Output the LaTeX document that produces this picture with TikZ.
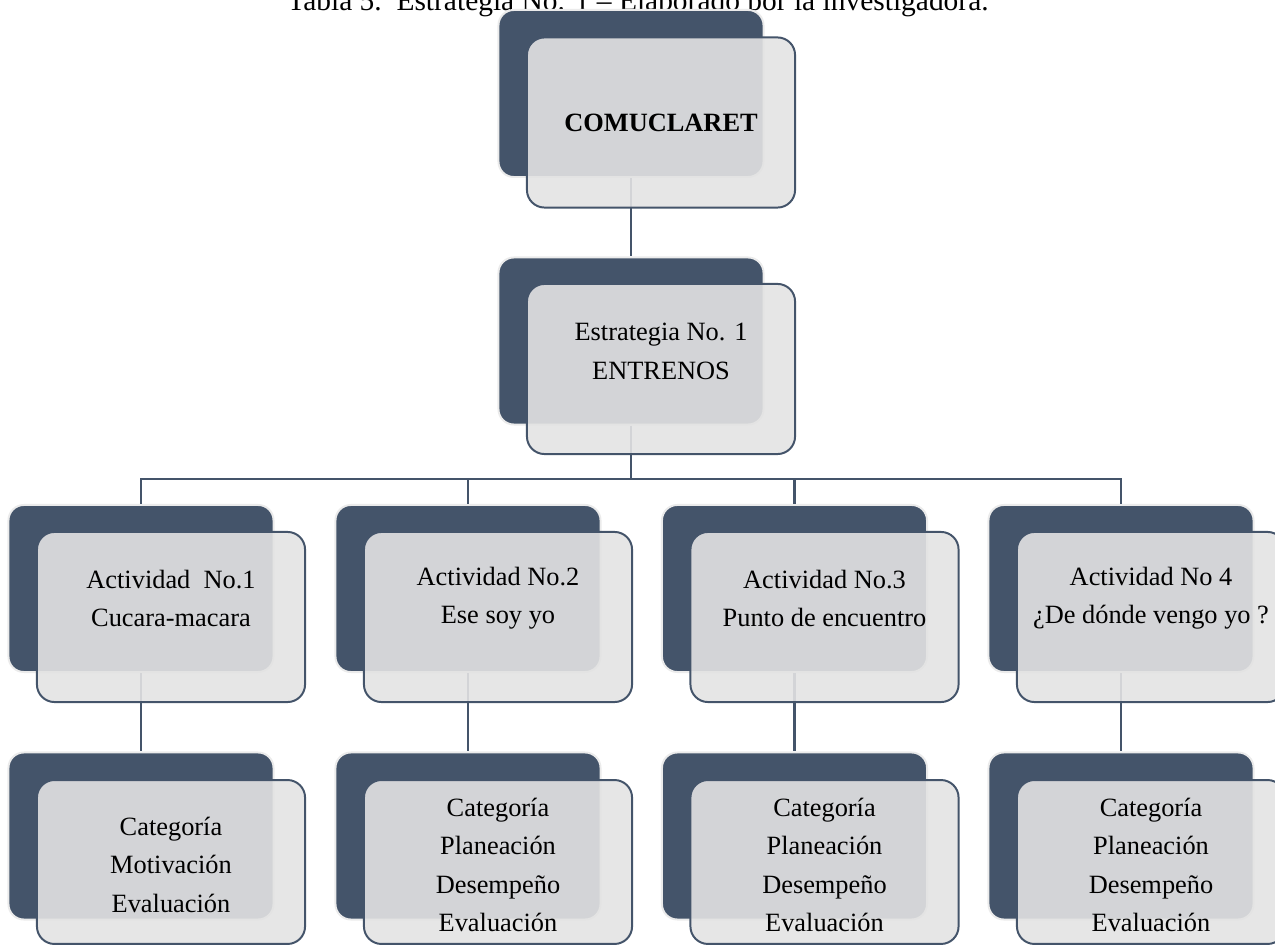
\documentclass[tikz,border=0pt]{standalone}
\usepackage{fontspec}
\setmainfont{Liberation Serif}
\usepackage{tikz}
\usetikzlibrary{calc}

\definecolor{slate}{HTML}{44546A}
\definecolor{paper}{HTML}{E3E3E3}

\tikzset{
	backbox/.style = {rectangle, rounded corners = 7pt, fill = slate, draw = black!8, line width = 0.9pt, minimum width = 120.6pt, minimum height = 76pt, inner sep = 0pt},
	frontbox/.style = {rectangle, rounded corners = 8pt, fill = paper, fill opacity = 0.9, draw = slate, line width = 0.9pt, minimum width = 122pt, minimum height = 77.4pt, inner sep = 0pt},
	boxtext/.style = {align = center, inner sep = 0pt},
	link/.style = {draw = slate, line width = 1.1pt}
}

\begin{document}
\begin{tikzpicture}[x = 0.455pt, y = -0.455pt, font = \fontsize{12}{17.5}\selectfont]

\useasboundingbox (0,0) rectangle (1275,946);

\node[anchor = base, font = \fontsize{13.4}{16}\selectfont] (title) at (638,11) {Tabla 5.\ \ Estrategia No. 1 -- Elaborado por la investigadora.};

\node[backbox] (d1) at (631,93.5) {};
\node[backbox] (d2) at (631,341) {};
\foreach \i/\x in {1/141,2/468,3/794.5,4/1121} {
	\node[backbox] (a\i) at (\x,588.5) {};
	\node[backbox] (c\i) at (\x,836) {};
}

\draw[link] (d1.south) -- (d2.north);
\coordinate (bus) at (631,479);
\draw[link] (d2.south) -- (bus);
\foreach \i in {1,...,4} {
	\draw[link] (bus) -| (a\i.north);
	\draw[link] (a\i.south) -- (c\i.north);
}

\node[frontbox] (f1) at ([shift = {(30,29)}]d1.center) {};
\node[frontbox] (f2) at ([shift = {(30,28)}]d2.center) {};
\foreach \i in {1,...,4} {
	\node[frontbox] (fa\i) at ([shift = {(30,28.5)}]a\i.center) {};
	\node[frontbox, minimum height = 74.6pt] (fc\i) at ([shift = {(30,26)}]c\i.center) {};
}

\node[boxtext] (t1) at (f1.center) {\textbf{COMUCLARET}};
\node[boxtext] (t2) at ([yshift = 8pt]f2.center) {Estrategia No. 1\\ENTRENOS};

\foreach \i/\txt in {1/{Actividad\ \ No.1\\Cucara-macara}, 2/{Actividad No.2\\Ese soy yo}, 3/{Actividad No.3\\Punto de encuentro}, 4/{Actividad No 4\\¿De dónde vengo yo ?}}
	\node[boxtext] (ta\i) at ([yshift = 8.5pt]fa\i.center) {\txt};

\node[boxtext] (tc1) at ([yshift = -1.3pt]fc1.center) {Categoría\\Motivación\\Evaluación};
\foreach \i in {2,3,4}
	\node[boxtext] (tc\i) at ([yshift = -1.3pt]fc\i.center) {Categoría\\Planeación\\Desempeño\\Evaluación};

\end{tikzpicture}
\end{document}
